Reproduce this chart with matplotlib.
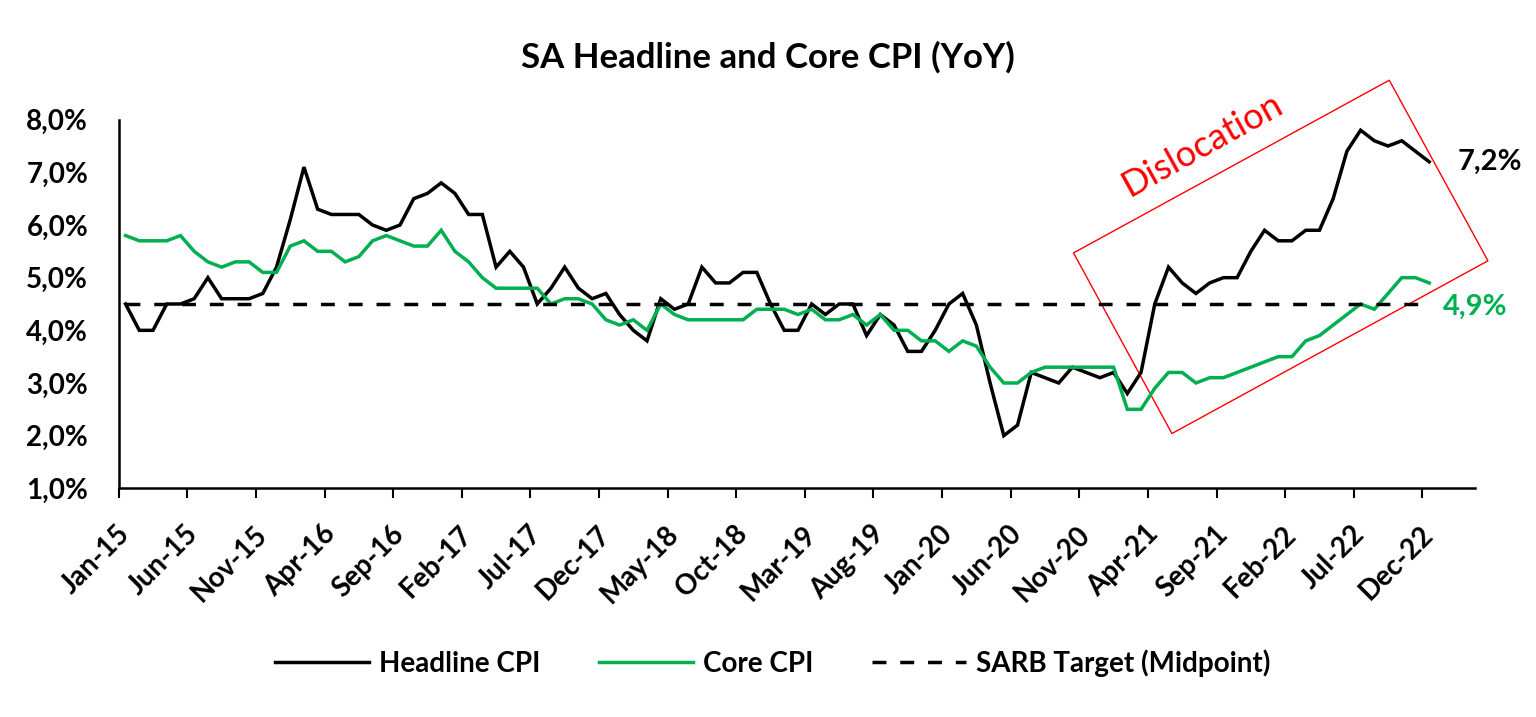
import numpy as np
import pandas as pd
import matplotlib
matplotlib.use('Agg')
import matplotlib.pyplot as plt
from matplotlib.patches import Polygon
from matplotlib.ticker import FuncFormatter

# Monthly categories Jan-15 .. Dec-22
months = pd.date_range('2015-01-01', periods=96, freq='MS').strftime('%b-%y').tolist()

# Headline CPI (YoY, %)
headline = [
    4.5, 4.0, 4.0, 4.5, 4.5, 4.6, 5.0, 4.6, 4.6, 4.6, 4.7, 5.2,
    6.1, 7.1, 6.3, 6.2, 6.2, 6.2, 6.0, 5.9, 6.0, 6.5, 6.6, 6.8,
    6.6, 6.2, 6.2, 5.2, 5.5, 5.2, 4.5, 4.8, 5.2, 4.8, 4.6, 4.7,
    4.3, 4.0, 3.8, 4.6, 4.4, 4.5, 5.2, 4.9, 4.9, 5.1, 5.1, 4.5,
    4.0, 4.0, 4.5, 4.3, 4.5, 4.5, 3.9, 4.3, 4.1, 3.6, 3.6, 4.0,
    4.5, 4.7, 4.1, 3.0, 2.0, 2.2, 3.2, 3.1, 3.0, 3.3, 3.2, 3.1,
    3.2, 2.8, 3.2, 4.5, 5.2, 4.9, 4.7, 4.9, 5.0, 5.0, 5.5, 5.9,
    5.7, 5.7, 5.9, 5.9, 6.5, 7.4, 7.8, 7.6, 7.5, 7.6, 7.4, 7.2,
]

# Core CPI (YoY, %)
core = [
    5.8, 5.7, 5.7, 5.7, 5.8, 5.5, 5.3, 5.2, 5.3, 5.3, 5.1, 5.1,
    5.6, 5.7, 5.5, 5.5, 5.3, 5.4, 5.7, 5.8, 5.7, 5.6, 5.6, 5.9,
    5.5, 5.3, 5.0, 4.8, 4.8, 4.8, 4.8, 4.5, 4.6, 4.6, 4.5, 4.2,
    4.1, 4.2, 4.0, 4.5, 4.3, 4.2, 4.2, 4.2, 4.2, 4.2, 4.4, 4.4,
    4.4, 4.3, 4.4, 4.2, 4.2, 4.3, 4.1, 4.3, 4.0, 4.0, 3.8, 3.8,
    3.6, 3.8, 3.7, 3.3, 3.0, 3.0, 3.2, 3.3, 3.3, 3.3, 3.3, 3.3,
    3.3, 2.5, 2.5, 2.9, 3.2, 3.2, 3.0, 3.1, 3.1, 3.2, 3.3, 3.4,
    3.5, 3.5, 3.8, 3.9, 4.1, 4.3, 4.5, 4.4, 4.7, 5.0, 5.0, 4.9,
]

target = 4.5  # SARB target midpoint
tick_every = 5

black = '#000000'
green = '#00B050'
red = '#FF0000'

plt.rcParams['font.family'] = ['Lato', 'DejaVu Sans']
plt.rcParams['font.weight'] = 'bold'

fig = plt.figure(figsize=(15.36, 7.17), dpi=100)
W, H = 1536, 717
ax = fig.add_axes([118.7 / W, 1 - 488.3 / H, (1474.5 - 118.7) / W, (488.3 - 119.7) / H])

x = np.arange(len(months))
ax.plot(x, headline, color=black, lw=2.5, label='Headline CPI', solid_joinstyle='miter')
ax.plot(x, core, color=green, lw=2.5, label='Core CPI', solid_joinstyle='miter')
ax.plot(x, np.full(len(months), target), color=black, lw=2.5, ls=(0, (4, 4)),
        label='SARB Target (Midpoint)')

ax.set_xlim(-0.5, 98.3)
ax.set_ylim(1, 8)
ax.set_yticks(np.arange(1, 9))
ax.yaxis.set_major_formatter(FuncFormatter(lambda v, p: f'{v:.1f}%'.replace('.', ',')))
ax.tick_params(axis='y', length=0, pad=22, labelsize=20)

label_pos = x[::tick_every]
ax.set_xticks(label_pos)
ax.set_xticklabels([months[i] for i in label_pos], rotation=45, ha='right',
                   va='center', rotation_mode='anchor', fontsize=20)
ax.tick_params(axis='x', which='major', length=0, pad=30)
ax.set_xticks(label_pos - 0.5, minor=True)
ax.tick_params(axis='x', which='minor', length=7, width=1.5, direction='out')

for s in ['top', 'right']:
    ax.spines[s].set_visible(False)
for s in ['left', 'bottom']:
    ax.spines[s].set_linewidth(1.8)

# end-of-series labels
ax.text(97.1, headline[-1], f'{headline[-1]:.1f}%'.replace('.', ','), color=black,
        fontsize=21, fontweight='bold', va='center', ha='left', clip_on=False)
ax.text(96.0, 4.44, f'{core[-1]:.1f}%'.replace('.', ','), color=green,
        fontsize=21, fontweight='bold', va='center', ha='left', clip_on=False)

# "Dislocation" box
box = Polygon([[69.08, 5.47], [92.09, 8.75], [99.28, 5.32], [76.25, 2.04]], closed=True,
              fill=False, edgecolor=red, lw=1.0, clip_on=False)
ax.add_patch(box)
ax.text(78.5, 7.52, 'Dislocation', color=red, fontsize=26, fontweight='normal',
        rotation=29, ha='center', va='center', rotation_mode='anchor')

fig.suptitle('SA Headline and Core CPI (YoY)', fontsize=25, fontweight='bold', x=0.5, y=1 - 57 / H,
             va='center')

fig.legend(loc='center', bbox_to_anchor=(0.503, 1 - 663 / H), ncol=3, frameon=False,
           fontsize=20, handlelength=3.4, handletextpad=0.35, columnspacing=2.1)

fig.savefig('out.png', dpi=100)
